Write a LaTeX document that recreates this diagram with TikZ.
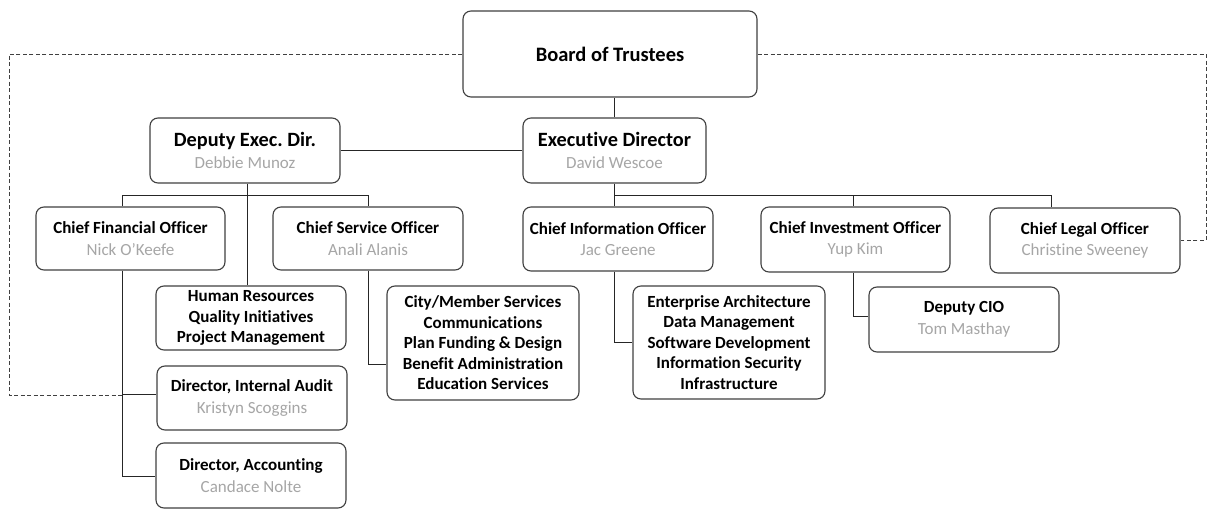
\documentclass[tikz,border=0pt]{standalone}
\usepackage{fontspec}
\setmainfont{Carlito}[Ligatures=NoCommon]
\definecolor{boxline}{HTML}{404040}
\definecolor{namegray}{HTML}{A6A6A6}
\tikzset{
  x=1pt, y=-1pt,
  orgbox/.style={draw=boxline, line width=1.1pt, rounded corners=8pt, inner sep=0pt, align=center, fill=white,
    font=\fontsize{17}{20.5}\selectfont\bfseries},
  twoline/.style={font=\fontsize{17}{21.5}\selectfont\bfseries},
  conn/.style={draw=black!85, line width=1pt},
  dconn/.style={draw=black!75, line width=0.9pt, dash pattern=on 4pt off 2.5pt},
}
\newcommand{\who}[1]{{\mdseries\color{namegray}#1}}
\begin{document}
\begin{tikzpicture}
\useasboundingbox (0,0) rectangle (1208,510);
% nodes
\node[orgbox, minimum width=294pt, minimum height=86pt, font=\fontsize{20.5}{24}\selectfont\bfseries] (board) at (610,54) {Board of Trustees};
\node[orgbox, twoline, minimum width=190pt, minimum height=65pt] (dep) at (245,150.5) {{\fontsize{20.3}{22}\selectfont Deputy Exec.\ Dir.}\\\who{Debbie Munoz}};
\node[orgbox, twoline, minimum width=183pt, minimum height=65pt] (ed) at (614.5,150.5) {{\fontsize{20.3}{22}\selectfont Executive Director}\\\who{David Wescoe}};
\node[orgbox, twoline, minimum width=189pt, minimum height=63pt] (cfo) at (130.5,238.5) {Chief Financial Officer\\\who{Nick O’Keefe}};
\node[orgbox, twoline, minimum width=190pt, minimum height=63pt] (cso) at (368,238.5) {Chief Service Officer\\\who{Anali Alanis}};
\node[orgbox, twoline, minimum width=190pt, minimum height=64pt] (cio) at (618,239) {Chief Information Officer\\\who{Jac Greene}};
\node[orgbox, twoline, minimum width=189pt, minimum height=65pt] (cinv) at (855.5,239.5) {Chief Investment Officer\\\who{Yup Kim}};
\node[orgbox, twoline, minimum width=190pt, minimum height=65pt] (clo) at (1085,240.5) {Chief Legal Officer\\\who{Christine Sweeney}};
\node[orgbox, minimum width=190pt, minimum height=64pt] (hr) at (251,318) {Human Resources\\Quality Initiatives\\Project Management};
\node[orgbox, twoline, minimum width=190pt, minimum height=64pt] (aud) at (252,398) {Director, Internal Audit\\\who{Kristyn Scoggins}};
\node[orgbox, twoline, minimum width=190pt, minimum height=65pt] (acc) at (251,475.5) {Director, Accounting\\\who{Candace Nolte}};
\node[orgbox, minimum width=192pt, minimum height=114pt] (city) at (483,343) {City/Member Services\\Communications\\Plan Funding \& Design\\Benefit Administration\\Education Services};
\node[orgbox, minimum width=192pt, minimum height=113pt] (ea) at (729,342.5) {Enterprise Architecture\\Data Management\\Software Development\\Information Security\\Infrastructure};
\node[orgbox, twoline, minimum width=190pt, minimum height=65pt] (dcio) at (964,319.5) {Deputy CIO\\\who{Tom Masthay}};
% coordinates
\coordinate (depbus) at (247,196);
\coordinate (cfobus) at (122,196);
\coordinate (csobus) at (368,196);
\coordinate (edbus) at (614,196);
\coordinate (cinvbus) at (853,196);
\coordinate (clobus) at (1051,196);
\coordinate (audj) at (122,395);
\coordinate (accj) at (122,477);
\coordinate (cityj) at (368,365);
\coordinate (eaj) at (614,343);
\coordinate (dcioj) at (853,317);
\coordinate (dlc) at (9,395);
\coordinate (drc) at (1206,240.5);
% connectors
\draw[conn] (ed.north) -- (ed.north |- board.south);
\draw[conn] (dep.east) -- (ed.west);
\draw[conn] (depbus |- dep.south) -- (depbus |- hr.north);
\draw[conn] (cfobus |- cfo.north) -- (cfobus) -- (csobus) -- (csobus |- cso.north);
\draw[conn] (cfobus |- cfo.south) -- (accj) -- (accj -| acc.west);
\draw[conn] (audj) -- (audj -| aud.west);
\draw[conn] (cityj |- cso.south) -- (cityj) -- (cityj -| city.west);
\draw[conn] (edbus |- ed.south) -- (edbus) -- (clobus) -- (clobus |- clo.north);
\draw[conn] (edbus) -- (edbus |- cio.north);
\draw[conn] (cinvbus) -- (cinvbus |- cinv.north);
\draw[conn] (eaj |- cio.south) -- (eaj) -- (eaj -| ea.west);
\draw[conn] (dcioj |- cinv.south) -- (dcioj) -- (dcioj -| dcio.west);
\draw[dconn] (board.west) -| (dlc) -- (audj);
\draw[dconn] (board.east) -| (drc) -- (clo.east);
\end{tikzpicture}
\end{document}
